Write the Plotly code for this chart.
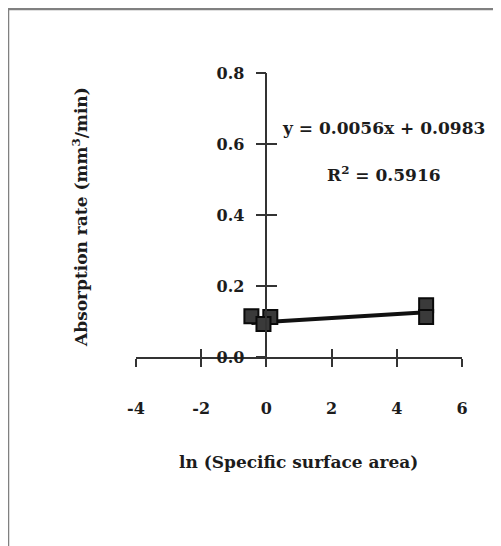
import plotly.graph_objects as go

# data
x_vals = [-0.46, 0.12, -0.09, 4.9, 4.9]
y_vals = [0.115, 0.113, 0.093, 0.146, 0.113]
slope = 0.0056
intercept = 0.0983
x_ticks = [-4, -2, 0, 2, 4, 6]
y_ticks = [0.0, 0.2, 0.4, 0.6, 0.8]
y_tick_text = ["0.0", "0.2", "0.4", "0.6", "0.8"]

FONT = "DejaVu Serif"
INK = "#1c1c1c"

xmin, xmax = min(x_vals), max(x_vals)
fit_x = [xmin, xmax]
fit_y = [slope * v + intercept for v in fit_x]

fig = go.Figure()
fig.add_trace(go.Scatter(x=fit_x, y=fit_y, mode="lines",
                         line=dict(color="#111111", width=4), showlegend=False, hoverinfo="skip"))
fig.add_trace(go.Scatter(x=x_vals, y=y_vals, mode="markers",
                         marker=dict(symbol="square", size=14, color="#3a3a3a",
                                     line=dict(color="#0a0a0a", width=2)),
                         showlegend=False))
# invisible trace for the overlay axes (inner tick halves)
fig.add_trace(go.Scatter(x=[None], y=[None], xaxis="x2", yaxis="y2", showlegend=False))

axis_common = dict(showgrid=False, zeroline=False, linecolor="#333333", linewidth=1.5,
                   tickcolor="#333333", tickwidth=1.5)
tick_font = dict(family=FONT, size=16, color=INK, weight="bold")
text_font = dict(family=FONT, size=17, color=INK, weight="bold")

fig.update_layout(
    width=493, height=538,
    margin=dict(l=128, r=39, t=65, b=189),
    paper_bgcolor="white", plot_bgcolor="white",
    font=dict(family=FONT, color=INK),
    xaxis=dict(range=[-4, 6], tickvals=x_ticks, ticktext=[str(t) for t in x_ticks],
               ticks="outside", ticklen=8, showline=True, tickfont=tick_font,
               ticklabelstandoff=28, **axis_common),
    yaxis=dict(range=[0, 0.8], tickvals=y_ticks, ticktext=y_tick_text,
               anchor="free", position=0.4, ticks="outside", ticklen=10, showline=True,
               tickfont=tick_font, ticklabelstandoff=8, **axis_common),
    xaxis2=dict(range=[-4, 6], tickvals=x_ticks, overlaying="x", anchor="y2", side="bottom",
                ticks="inside", ticklen=8, showticklabels=False, showline=False, **axis_common),
    yaxis2=dict(range=[0, 0.8], tickvals=y_ticks, overlaying="y", anchor="free", position=0.4,
                ticks="inside", ticklen=10, showticklabels=False, showline=False, **axis_common),
    annotations=[
        dict(text="y = 0.0056x + 0.0983", xref="paper", yref="paper", x=0.758, y=0.806,
             xanchor="center", yanchor="middle", showarrow=False, font=text_font),
        dict(text="R<sup>2</sup> = 0.5916", xref="paper", yref="paper", x=0.761, y=0.645,
             xanchor="center", yanchor="middle", showarrow=False, font=text_font),
        dict(text="ln (Specific surface area)", xref="paper", yref="paper", x=0.497, y=-0.37,
             xanchor="center", yanchor="middle", showarrow=False, font=text_font),
        dict(text="Absorption rate (mm<sup>3</sup>/min)", xref="paper", yref="paper",
             x=-0.172, y=0.493, textangle=-90, xanchor="center", yanchor="middle",
             showarrow=False, font=text_font),
    ],
    shapes=[
        dict(type="line", xref="paper", yref="paper", x0=-0.3926, x1=1.2, y0=1.2254, y1=1.2254,
             line=dict(color="#808080", width=2.5)),
        dict(type="line", xref="paper", yref="paper", x0=-0.3926, x1=-0.3926, y0=1.2254, y1=-0.7,
             line=dict(color="#808080", width=2.5)),
    ],
)

fig.write_html("out.html")
